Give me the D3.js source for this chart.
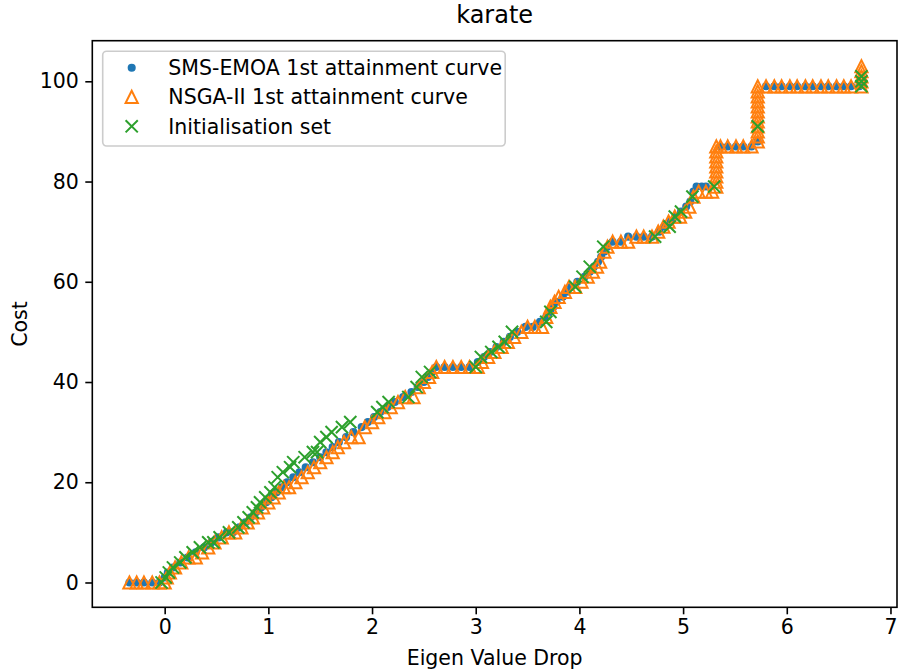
<!DOCTYPE html>
<html>
<head>
<meta charset="utf-8">
<script src="https://cdn.jsdelivr.net/npm/d3@7"></script>
<style>
  html, body { margin: 0; padding: 0; background: #ffffff; }
  svg { display: block; font-family: "DejaVu Sans", sans-serif; }
</style>
</head>
<body>
<svg id="chart" width="898" height="671"></svg>
<script>
// Attainment curves for the karate network: (eigen value drop, cost) pairs
const smsEmoa = [
  [-0.34,0],[-0.27,0],[-0.20,0],[-0.12,0],[-0.05,0],
  [0.00,1],[0.03,2],[0.08,3],[0.15,4],[0.22,5],[0.30,6],[0.38,7],[0.45,8],[0.52,9],
  [0.60,10],[0.66,10],[0.72,11],[0.78,12],[0.83,13],[0.88,14],[0.93,15],[0.98,16],
  [1.03,17],[1.08,18],[1.13,19],[1.18,20],[1.24,21],[1.30,22],[1.36,23],[1.43,24],
  [1.50,25],[1.56,26],[1.62,27],[1.68,28],[1.75,29],[1.82,30],[1.90,31],[1.96,32],
  [2.02,33],[2.08,34],[2.15,35],[2.22,36],[2.30,37],[2.38,38],[2.44,39],[2.50,40],
  [2.54,41],[2.58,42],[2.62,43],[2.70,43],[2.78,43],[2.86,43],[2.94,43],[3.02,44],
  [3.08,45],[3.14,46],[3.20,47],[3.27,48],[3.33,49],[3.40,50],[3.48,51],[3.55,51],
  [3.62,52],[3.68,53],[3.72,54],[3.75,55],[3.78,56],[3.84,57],[3.88,58],[3.92,59],
  [3.98,60],[4.05,61],[4.10,62],[4.14,63],[4.18,64],[4.21,65],[4.24,66],[4.27,67],
  [4.32,68],[4.40,68],[4.47,69],[4.55,69],[4.62,69],[4.70,69],[4.77,70],[4.82,71],
  [4.88,72],[4.93,73],[4.98,74],[5.03,75],[5.07,76],[5.10,78],[5.13,79],[5.18,79],[5.22,79],
  [5.36,87],[5.43,87],[5.51,87],[5.58,87],[5.66,87],[5.72,88],
  [5.80,99],[5.88,99],[5.95,99],[6.03,99],[6.10,99],[6.18,99],[6.25,99],[6.33,99],
  [6.40,99],[6.48,99],[6.55,99],[6.62,99],[6.70,99]
];

const nsga2 = [
  [-0.34,0],[-0.27,0],[-0.20,0],[-0.12,0],[-0.05,0],[0.00,0],
  [0.02,1],[0.05,2],[0.10,3],[0.16,4],[0.23,5],[0.30,5],[0.36,6],[0.42,7],[0.48,8],
  [0.55,9],[0.62,10],[0.68,10],[0.74,11],[0.80,12],[0.85,13],[0.90,14],[0.95,15],
  [1.00,16],[1.05,17],[1.10,18],[1.15,19],[1.20,19],[1.26,20],[1.32,21],[1.38,22],
  [1.44,23],[1.50,24],[1.56,25],[1.62,26],[1.67,27],[1.73,28],[1.80,29],[1.87,29],
  [1.93,31],[2.00,32],[2.06,33],[2.12,34],[2.18,35],[2.25,36],[2.32,37],[2.40,37],
  [2.45,39],[2.50,40],[2.55,41],[2.58,42],[2.62,43],[2.70,43],[2.78,43],[2.86,43],
  [2.94,43],[3.02,43],[3.06,44],[3.12,45],[3.18,46],[3.25,47],[3.31,48],[3.37,49],
  [3.44,50],[3.50,51],[3.57,51],[3.64,51],[3.68,53],[3.72,55],[3.76,56],[3.80,57],
  [3.86,58],[3.90,59],[3.96,59],[4.02,60],[4.08,61],[4.13,62],[4.17,63],[4.20,64],
  [4.24,66],[4.27,67],[4.32,68],[4.40,68],[4.47,68],[4.55,69],[4.62,69],[4.70,69],
  [4.76,70],[4.81,71],[4.86,72],[4.92,73],[4.97,73],[5.02,74],[5.06,75],[5.10,77],
  [5.15,78],[5.22,78],[5.28,78],
  [5.32,79],[5.32,80],[5.32,81],[5.32,82],[5.32,83],[5.32,84],[5.32,85],[5.32,86],[5.32,87],
  [5.36,87],[5.43,87],[5.51,87],[5.58,87],[5.66,87],
  [5.72,88],[5.72,89],[5.72,90],[5.72,91],[5.72,92],[5.72,93],[5.72,94],[5.72,95],
  [5.72,96],[5.72,97],[5.72,98],[5.72,99],
  [5.80,99],[5.88,99],[5.95,99],[6.03,99],[6.10,99],[6.18,99],[6.25,99],[6.33,99],
  [6.40,99],[6.48,99],[6.55,99],[6.62,99],
  [6.72,99],[6.72,100],[6.72,101],[6.72,102],[6.72,103]
];

const initialisation = [
  [-0.03,0],[0.01,1],[0.04,2],[0.08,3],[0.15,4],[0.20,5],[0.27,6],[0.34,7],[0.42,8],
  [0.47,8],[0.53,9],[0.62,10],[0.71,11],[0.76,12],[0.81,13],[0.85,14],[0.89,15],
  [0.92,16],[0.97,17],[1.02,18],[1.06,19],[1.09,21],[1.14,22],[1.21,23],[1.24,24],
  [1.35,25],[1.43,26],[1.47,26],[1.50,28],[1.56,29],[1.61,30],[1.71,31],[1.79,32],
  [2.05,34],[2.10,35],[2.16,36],[2.35,37],[2.43,39],[2.48,41],[2.56,42],
  [3.00,43],[3.05,45],[3.15,46],[3.22,47],[3.28,48],[3.35,50],[3.68,52],[3.72,54],
  [3.96,59],[4.03,61],[4.10,63],[4.23,67],[4.73,69],[4.87,71],[4.92,73],[4.98,74],
  [5.09,77],[5.30,79],[5.72,91],[6.72,99],[6.72,100],[6.72,101]
];

const xTicks = [0, 1, 2, 3, 4, 5, 6, 7];
const yTicks = [0, 20, 40, 60, 80, 100];
const seriesNames = ["SMS-EMOA 1st attainment curve", "NSGA-II 1st attainment curve", "Initialisation set"];
const seriesColors = ["#1f77b4", "#ff7f0e", "#2ca02c"];

const svg = d3.select("#chart");
const W = 898, H = 671;
const plot = { left: 92.3, top: 40.7, right: 897, bottom: 607.3 };

svg.append("rect").attr("width", W).attr("height", H).attr("fill", "#ffffff");

const x = d3.scaleLinear().domain([-0.698, 7.063]).range([plot.left, plot.right]);
const y = d3.scaleLinear().domain([-4.95, 108.1]).range([plot.bottom, plot.top]);

const ms = 12.2;      // marker size in px
const mew = 2.0;      // marker edge width

// plot clip
svg.append("clipPath").attr("id", "clip")
  .append("rect").attr("x", plot.left).attr("y", plot.top)
  .attr("width", plot.right - plot.left).attr("height", plot.bottom - plot.top);

const marks = svg.append("g").attr("clip-path", "url(#clip)");

const triPath = `M0,${-ms/2}L${-ms/2},${ms/2}L${ms/2},${ms/2}Z`;
const xPath = `M${-ms/2},${-ms/2}L${ms/2},${ms/2}M${-ms/2},${ms/2}L${ms/2},${-ms/2}`;

function drawDot(g, px, py) {
  g.append("circle").attr("cx", px).attr("cy", py).attr("r", ms / 4)
    .attr("fill", seriesColors[0]).attr("stroke", seriesColors[0]).attr("stroke-width", mew);
}
function drawTri(g, px, py) {
  g.append("path").attr("d", triPath).attr("transform", `translate(${px},${py})`)
    .attr("fill", "none").attr("stroke", seriesColors[1]).attr("stroke-width", mew)
    .attr("stroke-linejoin", "miter");
}
function drawX(g, px, py) {
  g.append("path").attr("d", xPath).attr("transform", `translate(${px},${py})`)
    .attr("fill", "none").attr("stroke", seriesColors[2]).attr("stroke-width", mew);
}

smsEmoa.forEach(d => drawDot(marks, x(d[0]), y(d[1])));
nsga2.forEach(d => drawTri(marks, x(d[0]), y(d[1])));
initialisation.forEach(d => drawX(marks, x(d[0]), y(d[1])));

// axes
const fs = 20.5;
const xAxis = svg.append("g").attr("transform", `translate(0,${plot.bottom})`)
  .call(d3.axisBottom(x).tickValues(xTicks).tickFormat(d3.format("d")).tickSize(7).tickPadding(5.5));
const yAxis = svg.append("g").attr("transform", `translate(${plot.left},0)`)
  .call(d3.axisLeft(y).tickValues(yTicks).tickFormat(d3.format("d")).tickSize(7).tickPadding(6.5));
[xAxis, yAxis].forEach(a => {
  a.select(".domain").remove();
  a.selectAll(".tick line").attr("stroke", "#000").attr("stroke-width", 1.6);
  a.selectAll(".tick text").attr("fill", "#000").style("font-size", fs + "px")
    .style("font-family", "'DejaVu Sans', sans-serif");
});

// spines
svg.append("rect").attr("x", plot.left).attr("y", plot.top)
  .attr("width", plot.right - plot.left).attr("height", plot.bottom - plot.top)
  .attr("fill", "none").attr("stroke", "#000").attr("stroke-width", 1.6);

// labels
const cx = (plot.left + plot.right) / 2;
svg.append("text").attr("x", cx).attr("y", 23).attr("text-anchor", "middle")
  .style("font-size", "24px").text("karate");
svg.append("text").attr("x", cx).attr("y", 665).attr("text-anchor", "middle")
  .style("font-size", fs + "px").text("Eigen Value Drop");
svg.append("text").attr("transform", `translate(27,${(plot.top + plot.bottom) / 2}) rotate(-90)`)
  .attr("text-anchor", "middle").style("font-size", fs + "px").text("Cost");

// legend
const lg = svg.append("g");
lg.append("rect").attr("x", 102.7).attr("y", 51.2).attr("width", 402.5).attr("height", 94.8)
  .attr("rx", 3.9).attr("ry", 3.9)
  .attr("fill", "#ffffff").attr("fill-opacity", 0.8)
  .attr("stroke", "#cccccc").attr("stroke-width", 1.6);
const rowY = [67.7, 96.9, 126.3];
const drawers = [drawDot, drawTri, drawX];
seriesNames.forEach((name, i) => {
  drawers[i](lg, 131.7, rowY[i]);
  lg.append("text").attr("x", 168.3).attr("y", rowY[i] + 7.3)
    .style("font-size", fs + "px").text(name);
});
</script>
</body>
</html>
